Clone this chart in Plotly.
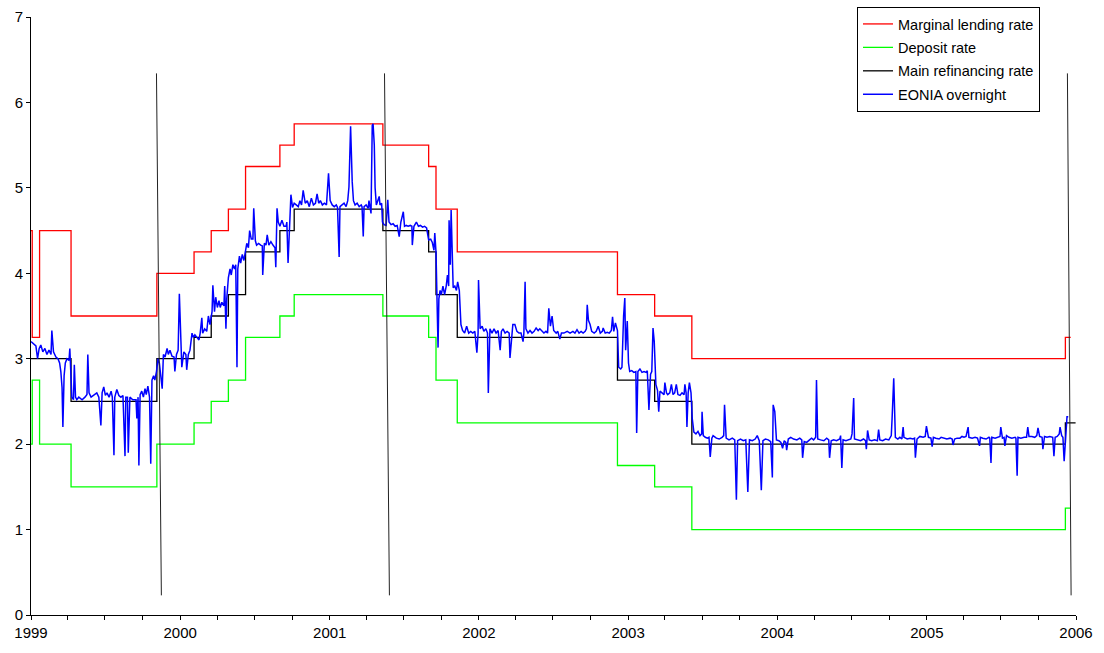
import plotly.graph_objects as go

# ECB official rates (step changes)
rate_dates = ["1999-01-01", "1999-01-04", "1999-01-22", "1999-04-09", "1999-11-05",
              "2000-02-04", "2000-03-17", "2000-04-28", "2000-06-09", "2000-09-01",
              "2000-10-06", "2001-05-11", "2001-08-31", "2001-09-18", "2001-11-09",
              "2002-12-06", "2003-03-07", "2003-06-06", "2005-12-06"]
marginal_rate = [4.50, 3.25, 4.50, 3.50, 4.00, 4.25, 4.50, 4.75, 5.25, 5.50,
                 5.75, 5.50, 5.25, 4.75, 4.25, 3.75, 3.50, 3.00, 3.25]
deposit_rate = [2.00, 2.75, 2.00, 1.50, 2.00, 2.25, 2.50, 2.75, 3.25, 3.50,
                3.75, 3.50, 3.25, 2.75, 2.25, 1.75, 1.50, 1.00, 1.25]
main_refi_rate = [3.00, 3.00, 3.00, 2.50, 3.00, 3.25, 3.50, 3.75, 4.25, 4.50,
                  4.75, 4.50, 4.25, 3.75, 3.25, 2.75, 2.50, 2.00, 2.25]
corridor_end = "2005-12-19"
refi_end = "2005-12-31"

# EONIA overnight
eonia_1999 = [
    ("1999-01-01", 3.20), ("1999-01-06", 3.18), ("1999-01-13", 3.15), ("1999-01-17", 3.00),
    ("1999-01-21", 3.12), ("1999-01-25", 3.16), ("1999-01-30", 3.08), ("1999-02-04", 3.12),
    ("1999-02-09", 3.05), ("1999-02-14", 3.10), ("1999-02-19", 3.05), ("1999-02-21", 3.33),
    ("1999-02-25", 3.08), ("1999-03-03", 3.02), ("1999-03-08", 3.00), ("1999-03-12", 2.95),
    ("1999-03-15", 2.85), ("1999-03-18", 2.66), ("1999-03-20", 2.20), ("1999-03-23", 2.80),
    ("1999-03-26", 2.95), ("1999-03-30", 3.00), ("1999-04-04", 2.98), ("1999-04-06", 3.12),
    ("1999-04-09", 2.70), ("1999-04-11", 2.55), ("1999-04-15", 2.52), ("1999-04-17", 2.93),
    ("1999-04-20", 2.55), ("1999-04-23", 2.52), ("1999-04-28", 2.55), ("1999-05-06", 2.52),
    ("1999-05-13", 2.55), ("1999-05-18", 2.58), ("1999-05-20", 3.05), ("1999-05-23", 2.60),
    ("1999-05-28", 2.55), ("1999-06-04", 2.58), ("1999-06-11", 2.60), ("1999-06-16", 2.55),
    ("1999-06-21", 2.22), ("1999-06-24", 2.60), ("1999-06-28", 2.67), ("1999-07-02", 2.57),
    ("1999-07-06", 2.60), ("1999-07-11", 2.55), ("1999-07-16", 2.62), ("1999-07-19", 2.55),
    ("1999-07-23", 1.87), ("1999-07-25", 2.55), ("1999-07-30", 2.64), ("1999-08-04", 2.57),
    ("1999-08-09", 2.55), ("1999-08-14", 2.57), ("1999-08-19", 1.86), ("1999-08-21", 2.55),
    ("1999-08-25", 2.55), ("1999-08-27", 1.90), ("1999-08-31", 2.55), ("1999-09-07", 2.52),
    ("1999-09-15", 2.52), ("1999-09-17", 2.30), ("1999-09-20", 2.55), ("1999-09-22", 1.75),
    ("1999-09-25", 2.58), ("1999-09-29", 2.62), ("1999-10-03", 2.55), ("1999-10-07", 2.65),
    ("1999-10-10", 2.58), ("1999-10-14", 2.68), ("1999-10-18", 2.55), ("1999-10-21", 1.77),
    ("1999-10-24", 2.75), ("1999-10-28", 2.80), ("1999-10-31", 2.75), ("1999-11-04", 2.85),
    ("1999-11-08", 3.00), ("1999-11-11", 2.95), ("1999-11-15", 2.75), ("1999-11-18", 2.65),
    ("1999-11-21", 3.05), ("1999-11-25", 3.02), ("1999-11-30", 3.12), ("1999-12-03", 3.05),
    ("1999-12-07", 3.10), ("1999-12-12", 3.03), ("1999-12-17", 3.02), ("1999-12-19", 2.85),
    ("1999-12-23", 3.05), ("1999-12-27", 3.10), ("1999-12-30", 3.76),
]
eonia_2000 = [
    ("2000-01-03", 3.10), ("2000-01-05", 2.90), ("2000-01-10", 3.08), ("2000-01-15", 3.05),
    ("2000-01-17", 2.87), ("2000-01-21", 3.05), ("2000-01-25", 3.10), ("2000-01-30", 3.30),
    ("2000-02-02", 3.25), ("2000-02-06", 3.28), ("2000-02-11", 3.25), ("2000-02-16", 3.22),
    ("2000-02-19", 3.30), ("2000-02-23", 3.48), ("2000-02-25", 3.30), ("2000-03-01", 3.35),
    ("2000-03-06", 3.32), ("2000-03-10", 3.50), ("2000-03-14", 3.40), ("2000-03-19", 3.55),
    ("2000-03-21", 3.86), ("2000-03-25", 3.55), ("2000-03-28", 3.72), ("2000-04-01", 3.60),
    ("2000-04-05", 3.68), ("2000-04-08", 3.60), ("2000-04-12", 3.66), ("2000-04-17", 3.62),
    ("2000-04-19", 3.85), ("2000-04-22", 3.35), ("2000-04-24", 3.70), ("2000-04-28", 3.95),
    ("2000-05-02", 4.05), ("2000-05-05", 3.98), ("2000-05-09", 4.10), ("2000-05-13", 4.05),
    ("2000-05-16", 4.10), ("2000-05-19", 2.90), ("2000-05-21", 4.05), ("2000-05-25", 4.20),
    ("2000-05-28", 4.12), ("2000-06-01", 4.22), ("2000-06-05", 4.15), ("2000-06-08", 4.25),
    ("2000-06-12", 4.35), ("2000-06-16", 4.30), ("2000-06-19", 4.50), ("2000-06-23", 4.40),
    ("2000-06-27", 4.40), ("2000-06-29", 4.76), ("2000-07-03", 4.38), ("2000-07-06", 4.33),
    ("2000-07-11", 4.35), ("2000-07-16", 4.33), ("2000-07-20", 4.32), ("2000-07-21", 3.98),
    ("2000-07-25", 4.35), ("2000-07-29", 4.33), ("2000-08-01", 4.45), ("2000-08-05", 4.33),
    ("2000-08-10", 4.37), ("2000-08-15", 4.33), ("2000-08-20", 4.30), ("2000-08-22", 4.07),
    ("2000-08-25", 4.76), ("2000-08-28", 4.60), ("2000-09-01", 4.55), ("2000-09-06", 4.62),
    ("2000-09-11", 4.55), ("2000-09-16", 4.55), ("2000-09-18", 4.60), ("2000-09-21", 4.12),
    ("2000-09-25", 4.60), ("2000-09-28", 4.92), ("2000-10-02", 4.77), ("2000-10-06", 4.82),
    ("2000-10-11", 4.80), ("2000-10-16", 4.78), ("2000-10-20", 4.85), ("2000-10-24", 4.80),
    ("2000-10-28", 4.97), ("2000-11-02", 4.82), ("2000-11-07", 4.85), ("2000-11-12", 4.78),
    ("2000-11-17", 4.88), ("2000-11-22", 4.80), ("2000-11-27", 4.82), ("2000-12-01", 4.93),
    ("2000-12-05", 4.82), ("2000-12-09", 4.85), ("2000-12-14", 4.80), ("2000-12-19", 4.82),
    ("2000-12-24", 4.80), ("2000-12-29", 5.17),
]
eonia_2001 = [
    ("2001-01-02", 4.85), ("2001-01-07", 4.80), ("2001-01-12", 4.78), ("2001-01-17", 4.80),
    ("2001-01-20", 4.77), ("2001-01-24", 4.19), ("2001-01-26", 4.78), ("2001-01-31", 4.80),
    ("2001-02-05", 4.82), ("2001-02-10", 4.78), ("2001-02-14", 4.85), ("2001-02-17", 5.01),
    ("2001-02-21", 5.72), ("2001-02-25", 5.07), ("2001-02-28", 4.85), ("2001-03-04", 4.80),
    ("2001-03-09", 4.82), ("2001-03-14", 4.78), ("2001-03-19", 4.80), ("2001-03-21", 4.78),
    ("2001-03-24", 4.43), ("2001-03-26", 4.78), ("2001-03-31", 4.80), ("2001-04-05", 4.76),
    ("2001-04-07", 4.85), ("2001-04-10", 4.76), ("2001-04-12", 4.70), ("2001-04-15", 5.73),
    ("2001-04-17", 5.75), ("2001-04-20", 5.50), ("2001-04-22", 5.00), ("2001-04-25", 4.80),
    ("2001-04-30", 4.87), ("2001-05-02", 4.90), ("2001-05-04", 4.80), ("2001-05-08", 4.82),
    ("2001-05-10", 4.60), ("2001-05-14", 4.57), ("2001-05-19", 4.56), ("2001-05-23", 4.86),
    ("2001-05-26", 4.60), ("2001-05-31", 4.57), ("2001-06-05", 4.58), ("2001-06-10", 4.55),
    ("2001-06-15", 4.56), ("2001-06-20", 4.43), ("2001-06-24", 4.60), ("2001-06-27", 4.66),
    ("2001-06-30", 4.72), ("2001-07-03", 4.55), ("2001-07-07", 4.56), ("2001-07-12", 4.55),
    ("2001-07-17", 4.56), ("2001-07-21", 4.55), ("2001-07-22", 4.33), ("2001-07-26", 4.55),
    ("2001-08-01", 4.60), ("2001-08-06", 4.55), ("2001-08-11", 4.56), ("2001-08-16", 4.54),
    ("2001-08-21", 4.55), ("2001-08-26", 4.53), ("2001-08-31", 4.39), ("2001-09-05", 4.40),
    ("2001-09-09", 4.36), ("2001-09-13", 4.27), ("2001-09-15", 4.47), ("2001-09-18", 4.25),
    ("2001-09-20", 3.80), ("2001-09-23", 3.13), ("2001-09-25", 3.70), ("2001-09-28", 3.80),
    ("2001-10-01", 3.75), ("2001-10-05", 3.85), ("2001-10-09", 3.75), ("2001-10-13", 3.85),
    ("2001-10-16", 3.98), ("2001-10-19", 3.85), ("2001-10-20", 4.62), ("2001-10-23", 4.10),
    ("2001-10-25", 4.74), ("2001-10-28", 4.30), ("2001-10-30", 3.83), ("2001-11-03", 3.85),
    ("2001-11-07", 3.80), ("2001-11-10", 3.90), ("2001-11-14", 3.80), ("2001-11-18", 3.40),
    ("2001-11-22", 3.33), ("2001-11-27", 3.30), ("2001-12-02", 3.38), ("2001-12-07", 3.30),
    ("2001-12-12", 3.32), ("2001-12-17", 3.30), ("2001-12-22", 3.32), ("2001-12-27", 3.07),
    ("2001-12-30", 3.30), ("2001-12-31", 3.92),
]
eonia_2002 = [
    ("2002-01-04", 3.35), ("2002-01-09", 3.38), ("2002-01-13", 3.32), ("2002-01-18", 3.35),
    ("2002-01-22", 3.30), ("2002-01-24", 2.60), ("2002-01-28", 3.35), ("2002-02-02", 3.30),
    ("2002-02-07", 3.35), ("2002-02-12", 3.30), ("2002-02-17", 3.33), ("2002-02-22", 3.10),
    ("2002-02-25", 3.32), ("2002-03-01", 3.35), ("2002-03-06", 3.30), ("2002-03-11", 3.32),
    ("2002-03-16", 3.30), ("2002-03-18", 3.01), ("2002-03-22", 3.30), ("2002-03-25", 3.40),
    ("2002-03-30", 3.40), ("2002-04-04", 3.32), ("2002-04-09", 3.30), ("2002-04-14", 3.30),
    ("2002-04-19", 3.20), ("2002-04-21", 3.30), ("2002-04-24", 3.90), ("2002-04-26", 3.35),
    ("2002-05-01", 3.30), ("2002-05-06", 3.33), ("2002-05-11", 3.30), ("2002-05-16", 3.32),
    ("2002-05-21", 3.36), ("2002-05-26", 3.33), ("2002-05-30", 3.35), ("2002-06-04", 3.32),
    ("2002-06-09", 3.30), ("2002-06-14", 3.32), ("2002-06-18", 3.30), ("2002-06-21", 3.59),
    ("2002-06-25", 3.38), ("2002-06-29", 3.50), ("2002-07-03", 3.33), ("2002-07-09", 3.30),
    ("2002-07-13", 3.32), ("2002-07-18", 3.23), ("2002-07-22", 3.30), ("2002-07-28", 3.30),
    ("2002-08-05", 3.32), ("2002-08-12", 3.30), ("2002-08-19", 3.32), ("2002-08-24", 3.30),
    ("2002-08-29", 3.34), ("2002-09-03", 3.30), ("2002-09-08", 3.32), ("2002-09-13", 3.30),
    ("2002-09-18", 3.32), ("2002-09-21", 3.35), ("2002-09-23", 3.63), ("2002-09-26", 3.45),
    ("2002-09-30", 3.40), ("2002-10-04", 3.32), ("2002-10-10", 3.30), ("2002-10-15", 3.32),
    ("2002-10-20", 3.38), ("2002-10-25", 3.30), ("2002-10-30", 3.32), ("2002-11-01", 3.36),
    ("2002-11-06", 3.30), ("2002-11-11", 3.31), ("2002-11-16", 3.30), ("2002-11-21", 3.33),
    ("2002-11-24", 3.49), ("2002-11-27", 3.32), ("2002-12-01", 3.42), ("2002-12-06", 3.33),
    ("2002-12-09", 2.90), ("2002-12-14", 2.88), ("2002-12-17", 2.90), ("2002-12-21", 3.50),
    ("2002-12-24", 3.71), ("2002-12-26", 3.10), ("2002-12-30", 3.44),
]
eonia_2003 = [
    ("2003-01-02", 2.95), ("2003-01-05", 2.85), ("2003-01-10", 2.86), ("2003-01-15", 2.84),
    ("2003-01-20", 2.85), ("2003-01-22", 2.13), ("2003-01-25", 2.85), ("2003-01-30", 2.88),
    ("2003-02-04", 2.84), ("2003-02-09", 2.85), ("2003-02-14", 2.84), ("2003-02-17", 2.86),
    ("2003-02-21", 2.40), ("2003-02-25", 2.82), ("2003-02-28", 2.85), ("2003-03-03", 3.36),
    ("2003-03-06", 3.20), ("2003-03-10", 2.70), ("2003-03-14", 2.63), ("2003-03-17", 2.38),
    ("2003-03-20", 2.62), ("2003-03-25", 2.60), ("2003-03-30", 2.58), ("2003-04-01", 2.72),
    ("2003-04-05", 2.60), ("2003-04-08", 2.58), ("2003-04-13", 2.60), ("2003-04-17", 2.70),
    ("2003-04-21", 2.58), ("2003-04-25", 2.60), ("2003-04-29", 2.70), ("2003-05-03", 2.58),
    ("2003-05-08", 2.57), ("2003-05-13", 2.60), ("2003-05-18", 2.58), ("2003-05-20", 2.70),
    ("2003-05-23", 2.60), ("2003-05-25", 2.20), ("2003-05-28", 2.60), ("2003-05-31", 2.72),
    ("2003-06-04", 2.60), ("2003-06-07", 2.30), ("2003-06-11", 2.14), ("2003-06-16", 2.12),
    ("2003-06-21", 2.15), ("2003-06-26", 2.10), ("2003-06-30", 2.12), ("2003-07-01", 2.38),
    ("2003-07-04", 2.10), ("2003-07-09", 2.08), ("2003-07-14", 2.07), ("2003-07-18", 2.08),
    ("2003-07-21", 1.85), ("2003-07-25", 2.07), ("2003-07-28", 2.10), ("2003-08-05", 2.07),
    ("2003-08-12", 2.06), ("2003-08-19", 2.08), ("2003-08-23", 2.10), ("2003-08-25", 2.46),
    ("2003-08-29", 2.07), ("2003-09-05", 2.05), ("2003-09-13", 2.07), ("2003-09-19", 2.05),
    ("2003-09-23", 1.35), ("2003-09-26", 2.04), ("2003-10-03", 2.06), ("2003-10-10", 2.04),
    ("2003-10-16", 2.05), ("2003-10-21", 1.44), ("2003-10-25", 2.05), ("2003-11-01", 2.04),
    ("2003-11-08", 2.06), ("2003-11-13", 2.10), ("2003-11-18", 2.04), ("2003-11-23", 1.46),
    ("2003-11-27", 2.04), ("2003-12-03", 2.06), ("2003-12-10", 2.05), ("2003-12-16", 2.03),
    ("2003-12-20", 1.61), ("2003-12-22", 2.46), ("2003-12-26", 2.38), ("2003-12-30", 2.05),
]
eonia_2004 = [
    ("2004-01-05", 2.04), ("2004-01-10", 2.02), ("2004-01-14", 1.95), ("2004-01-18", 2.04),
    ("2004-01-22", 2.02), ("2004-01-24", 1.93), ("2004-01-28", 2.06), ("2004-02-03", 2.08),
    ("2004-02-10", 2.06), ("2004-02-18", 2.05), ("2004-02-25", 2.07), ("2004-03-01", 2.05),
    ("2004-03-03", 1.84), ("2004-03-07", 2.03), ("2004-03-13", 2.02), ("2004-03-20", 2.05),
    ("2004-03-25", 2.07), ("2004-03-30", 2.05), ("2004-04-04", 2.08), ("2004-04-06", 2.75),
    ("2004-04-09", 2.06), ("2004-04-16", 2.05), ("2004-04-24", 2.04), ("2004-05-01", 2.07),
    ("2004-05-06", 2.05), ("2004-05-08", 1.84), ("2004-05-12", 2.04), ("2004-05-18", 2.05),
    ("2004-05-25", 2.04), ("2004-06-02", 2.06), ("2004-06-04", 2.10), ("2004-06-07", 1.72),
    ("2004-06-10", 2.05), ("2004-06-17", 2.04), ("2004-06-24", 2.05), ("2004-06-29", 2.06),
    ("2004-07-02", 2.12), ("2004-07-06", 2.54), ("2004-07-08", 2.06), ("2004-07-16", 2.05),
    ("2004-07-23", 2.04), ("2004-07-30", 2.06), ("2004-08-04", 2.04), ("2004-08-06", 1.94),
    ("2004-08-09", 2.16), ("2004-08-13", 2.05), ("2004-08-19", 2.04), ("2004-08-26", 2.05),
    ("2004-09-02", 2.04), ("2004-09-05", 2.17), ("2004-09-08", 2.05), ("2004-09-15", 2.04),
    ("2004-09-22", 2.06), ("2004-09-30", 2.05), ("2004-10-06", 2.10), ("2004-10-08", 2.30),
    ("2004-10-12", 2.77), ("2004-10-16", 2.08), ("2004-10-22", 2.06), ("2004-10-27", 2.08),
    ("2004-11-01", 2.06), ("2004-11-04", 2.20), ("2004-11-06", 2.08), ("2004-11-14", 2.06),
    ("2004-11-21", 2.07), ("2004-11-28", 2.06), ("2004-12-02", 2.07), ("2004-12-04", 1.84),
    ("2004-12-08", 2.06), ("2004-12-15", 2.09), ("2004-12-23", 2.08), ("2004-12-28", 2.09),
    ("2004-12-31", 2.21),
]
eonia_2005 = [
    ("2005-01-05", 2.08), ("2005-01-11", 2.07), ("2005-01-14", 1.97), ("2005-01-17", 2.08),
    ("2005-01-23", 2.07), ("2005-01-31", 2.06), ("2005-02-05", 2.08), ("2005-02-12", 2.07),
    ("2005-02-19", 2.06), ("2005-02-27", 2.07), ("2005-03-04", 2.06), ("2005-03-06", 1.99),
    ("2005-03-10", 2.06), ("2005-03-16", 2.07), ("2005-03-23", 2.07), ("2005-03-28", 2.09),
    ("2005-04-02", 2.08), ("2005-04-07", 2.09), ("2005-04-12", 2.20), ("2005-04-14", 2.08),
    ("2005-04-22", 2.07), ("2005-04-29", 2.08), ("2005-05-05", 2.07), ("2005-05-10", 1.98),
    ("2005-05-12", 2.08), ("2005-05-18", 2.07), ("2005-05-26", 2.06), ("2005-06-02", 2.08),
    ("2005-06-04", 2.07), ("2005-06-07", 1.78), ("2005-06-09", 2.08), ("2005-06-17", 2.07),
    ("2005-06-24", 2.08), ("2005-06-29", 2.09), ("2005-07-01", 2.20), ("2005-07-05", 2.07),
    ("2005-07-09", 2.08), ("2005-07-11", 1.98), ("2005-07-15", 2.10), ("2005-07-21", 2.08),
    ("2005-07-28", 2.07), ("2005-08-05", 2.08), ("2005-08-07", 2.07), ("2005-08-10", 1.63),
    ("2005-08-12", 2.08), ("2005-08-19", 2.07), ("2005-08-27", 2.08), ("2005-09-02", 2.08),
    ("2005-09-05", 2.20), ("2005-09-08", 2.09), ("2005-09-15", 2.09), ("2005-09-22", 2.08),
    ("2005-09-27", 2.10), ("2005-09-30", 2.19), ("2005-10-04", 2.09), ("2005-10-10", 2.08),
    ("2005-10-12", 1.94), ("2005-10-16", 2.09), ("2005-10-22", 2.08), ("2005-10-29", 2.09),
    ("2005-11-05", 2.08), ("2005-11-08", 1.86), ("2005-11-11", 2.08), ("2005-11-16", 2.09),
    ("2005-11-21", 2.12), ("2005-11-23", 2.20), ("2005-11-27", 2.10), ("2005-11-30", 2.08),
    ("2005-12-03", 1.80), ("2005-12-06", 2.10), ("2005-12-10", 2.32), ("2005-12-13", 2.32),
]

# Three thin reference lines (start/end dates and levels)
marker_lines = [
    (("1999-11-04", 6.34), ("1999-11-16", 0.23)),
    (("2001-05-15", 6.34), ("2001-05-27", 0.23)),
    (("2005-12-11", 6.34), ("2005-12-20", 0.23)),
]

eonia = eonia_1999 + eonia_2000 + eonia_2001 + eonia_2002 + eonia_2003 + eonia_2004 + eonia_2005
eonia_dates = [d for d, _ in eonia]
eonia_values = [v for _, v in eonia]

font_family = "Liberation Sans, Arial, sans-serif"

fig = go.Figure()
fig.add_trace(go.Scatter(x=rate_dates + [corridor_end], y=marginal_rate + [marginal_rate[-1]],
                         mode="lines", line=dict(color="#FF0000", width=1.3, shape="hv"),
                         name="Marginal lending rate", legendgroup="g1"))
fig.add_trace(go.Scatter(x=rate_dates + [corridor_end], y=deposit_rate + [deposit_rate[-1]],
                         mode="lines", line=dict(color="#00FF00", width=1.3, shape="hv"),
                         name="Deposit rate", legendgroup="g2"))
fig.add_trace(go.Scatter(x=rate_dates + [refi_end], y=main_refi_rate + [main_refi_rate[-1]],
                         mode="lines", line=dict(color="#000000", width=1.3, shape="hv"),
                         name="Main refinancing rate", legendgroup="g3"))
fig.add_trace(go.Scatter(x=eonia_dates, y=eonia_values, mode="lines",
                         line=dict(color="#0000FF", width=1.5),
                         name="EONIA overnight", legendgroup="g4"))
for (d0, v0), (d1, v1) in marker_lines:
    fig.add_trace(go.Scatter(x=[d0, d1], y=[v0, v1], mode="lines",
                             line=dict(color="#222222", width=1), showlegend=False,
                             hoverinfo="skip"))

fig.update_layout(
    width=1104, height=653,
    margin=dict(l=31, r=28, t=17, b=38, autoexpand=False),
    paper_bgcolor="white", plot_bgcolor="white",
    font=dict(family=font_family, size=15, color="black"),
    showlegend=True,
    legend=dict(xref="container", yref="container",
                x=857 / 1104, y=1 - 7 / 653, xanchor="left", yanchor="top",
                bgcolor="white", bordercolor="black", borderwidth=1,
                font=dict(size=14.5), itemwidth=30,
                traceorder="grouped", tracegroupgap=1.6),
)
fig.update_xaxes(
    type="date", range=["1999-01-01", "2006-01-01"], automargin=False,
    tickmode="linear", tick0="1999-01-01", dtick="M12", tickformat="%Y",
    ticks="outside", ticklen=4, tickcolor="black",
    minor=dict(dtick="M3", ticks="outside", ticklen=4, tickcolor="black", showgrid=False),
    showline=True, linecolor="black", linewidth=1,
    showgrid=False, zeroline=False,
    tickfont=dict(size=15),
)
fig.update_yaxes(
    range=[0, 7], tickmode="linear", tick0=0, dtick=1, automargin=False,
    ticks="outside", ticklen=4, tickcolor="black",
    showline=True, linecolor="black", linewidth=1,
    showgrid=False, zeroline=False,
    tickfont=dict(size=15),
)

fig.write_html("out.html", config={"displayModeBar": False},
               post_script="document.body.style.margin='0px';")
